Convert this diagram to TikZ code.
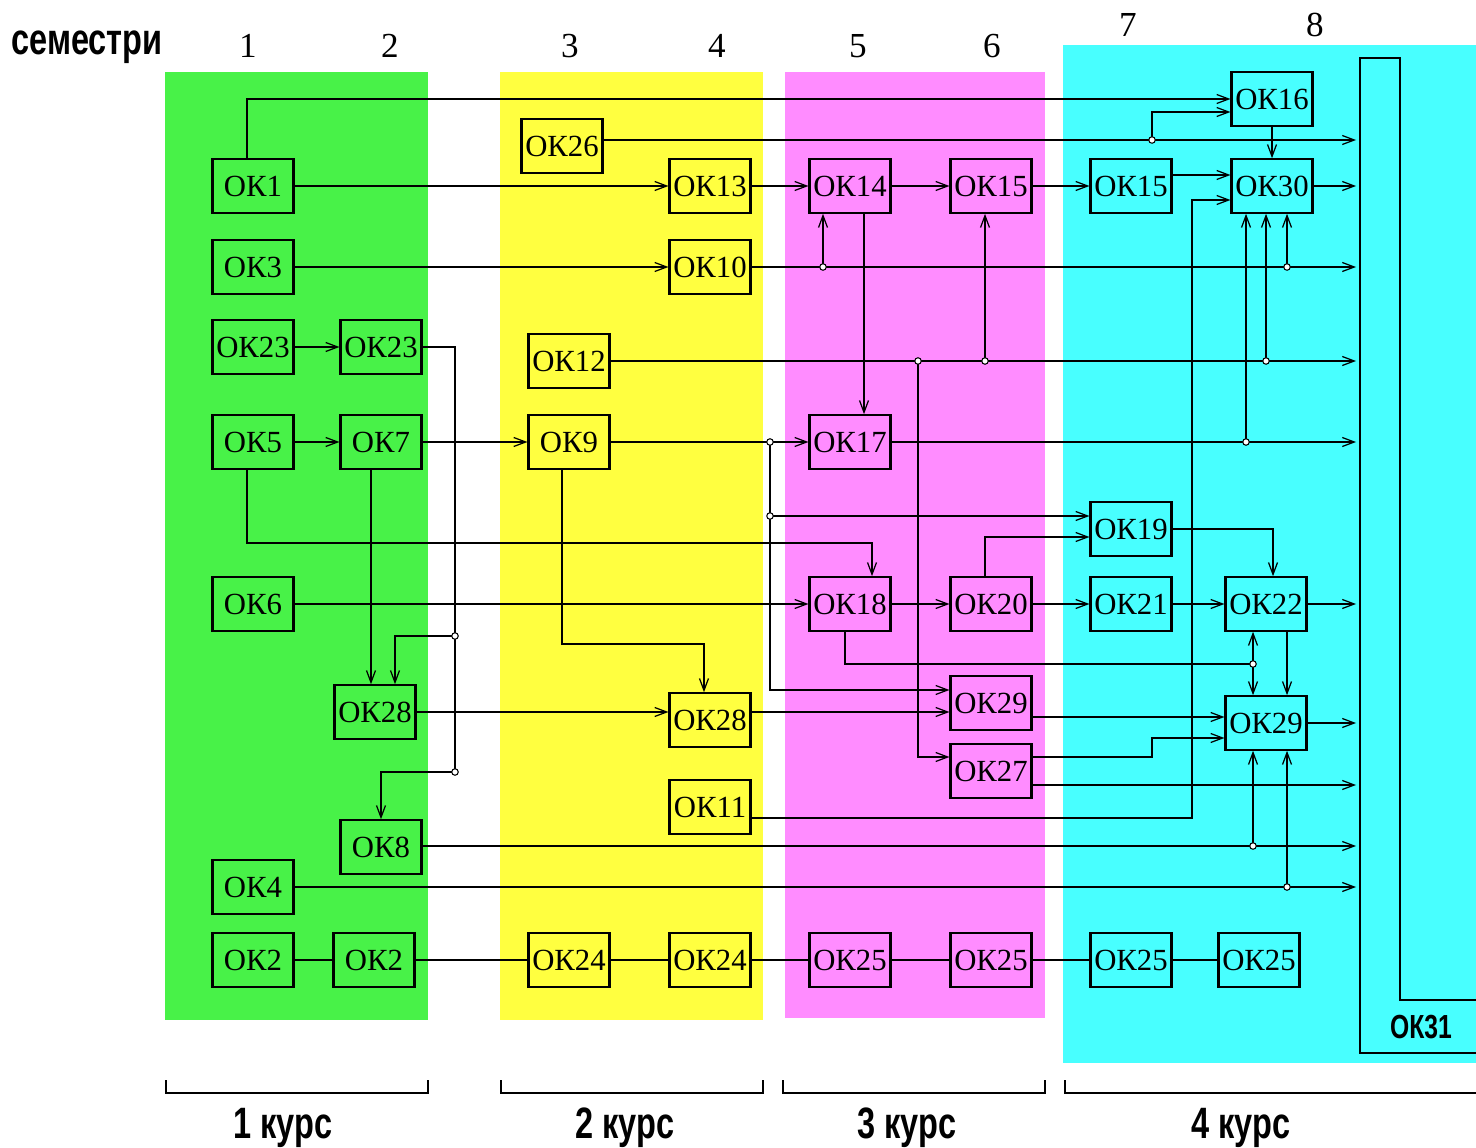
\documentclass[tikz,border=0pt]{standalone}
\usepackage{graphicx}
\usepackage{fontspec}
\setmainfont{Liberation Serif}
\newfontfamily\labelfont{Liberation Sans}
\usetikzlibrary{arrows.meta}

\definecolor{kursone}{RGB}{72,242,72}
\definecolor{kurstwo}{RGB}{255,255,64}
\definecolor{kursthree}{RGB}{255,140,255}
\definecolor{kursfour}{RGB}{72,255,255}

\newcommand{\narrowtext}[1]{\scalebox{0.74}[1]{#1}}

\tikzset{
  box/.style={draw, line width=1.2pt, minimum width=1.62cm, minimum height=1.07cm,
    inner sep=0pt, font=\fontsize{17.5}{17.5}\selectfont},
  dot/.style={circle, draw, fill=white, line width=0.6pt, inner sep=0pt, minimum size=0.13cm},
  semnum/.style={font=\fontsize{20}{20}\selectfont},
  kurslabel/.style={font=\labelfont\bfseries\fontsize{25}{25}\selectfont},
  bracket/.style={line width=1.4pt},
}

\begin{document}
\begin{tikzpicture}[x=0.02cm, y=-0.02cm, >={Straight Barb[length=0.24cm,width=0.18cm]}, line width=0.7pt]
  \useasboundingbox (0,0) rectangle (1476,1148);

  % course areas
  \fill[kursone] (165,72) rectangle (428,1020);
  \fill[kurstwo] (500,72) rectangle (763,1020);
  \fill[kursthree] (785,72) rectangle (1045,1018);
  \fill[kursfour] (1063,45) rectangle (1476,1063);

  % headings
  \node[kurslabel] (semestry) at (87,47) {\narrowtext{семестри}};
  \foreach \n/\x/\y in {1/248/46, 2/390/46, 3/570/46, 4/717/46, 5/858/46, 6/992/46, 7/1128/25, 8/1315/25}
    \node[semnum] (sem\n) at (\x,\y) {\n};

  % OK31
  \draw[line width=1.6pt] (1476,1000) -- (1400,1000) -- (1400,58) -- (1360,58) -- (1360,1053) -- (1476,1053);
  \node[kurslabel, font=\labelfont\bfseries\fontsize{19}{19}\selectfont] (ok31) at (1421,1027) {\narrowtext{ОК31}};
  \coordinate (bus) at (1356,0);

  % 1 course
  \node[box] (ok1) at (253,186) {ОК1};
  \node[box] (ok3) at (253,267) {ОК3};
  \node[box] (ok23a) at (253,347) {ОК23};
  \node[box] (ok23b) at (381,347) {ОК23};
  \node[box] (ok5) at (253,442) {ОК5};
  \node[box] (ok7) at (381,442) {ОК7};
  \node[box] (ok6) at (253,604) {ОК6};
  \node[box] (ok28a) at (375,712) {ОК28};
  \node[box] (ok8) at (381,847) {ОК8};
  \node[box] (ok4) at (253,887) {ОК4};
  \node[box] (ok2a) at (253,960) {ОК2};
  \node[box] (ok2b) at (374,960) {ОК2};

  % 2 course
  \node[box] (ok26) at (562,146) {ОК26};
  \node[box] (ok13) at (710,186) {ОК13};
  \node[box] (ok10) at (710,267) {ОК10};
  \node[box] (ok12) at (569,361) {ОК12};
  \node[box] (ok9) at (569,442) {ОК9};
  \node[box] (ok28b) at (710,720) {ОК28};
  \node[box] (ok11) at (710,807) {ОК11};
  \node[box] (ok24a) at (569,960) {ОК24};
  \node[box] (ok24b) at (710,960) {ОК24};

  % 3 course
  \node[box] (ok14) at (850,186) {ОК14};
  \node[box] (ok15a) at (991,186) {ОК15};
  \node[box] (ok17) at (850,442) {ОК17};
  \node[box] (ok18) at (850,604) {ОК18};
  \node[box] (ok20) at (991,604) {ОК20};
  \node[box] (ok29a) at (991,703) {ОК29};
  \node[box] (ok27) at (991,771) {ОК27};
  \node[box] (ok25a) at (850,960) {ОК25};
  \node[box] (ok25b) at (991,960) {ОК25};

  % 4 course
  \node[box] (ok16) at (1272,99) {ОК16};
  \node[box] (ok15b) at (1131,186) {ОК15};
  \node[box] (ok30) at (1272,186) {ОК30};
  \node[box] (ok19) at (1131,529) {ОК19};
  \node[box] (ok21) at (1131,604) {ОК21};
  \node[box] (ok22) at (1266,604) {ОК22};
  \node[box] (ok29b) at (1266,723) {ОК29};
  \node[box] (ok25c) at (1131,960) {ОК25};
  \node[box] (ok25d) at (1259,960) {ОК25};

  % junctions
  \coordinate (j26) at (1152,140);
  \coordinate (j10a) at (823,267);
  \coordinate (j10b) at (1287,267);
  \coordinate (j23a) at (455,636);
  \coordinate (j23b) at (455,772);
  \coordinate (j12a) at (918,361);
  \coordinate (j12b) at (985,361);
  \coordinate (j12c) at (1266,361);
  \coordinate (j9a) at (770,442);
  \coordinate (j9b) at (770,516);
  \coordinate (j17) at (1246,442);
  \coordinate (j18) at (1253,664);
  \coordinate (j8) at (1253,846);
  \coordinate (j4) at (1287,887);

  % connectors
  \draw[->] (247,0 |- ok1.north) |- (ok16.west);
  \draw[->] (ok26.east |- 0,140) -- (bus |- j26);
  \draw[->] (j26) |- (ok16.west |- 0,112);
  \draw[->] (ok1) -- (ok13);
  \draw[->] (ok13) -- (ok14);
  \draw[->] (ok14) -- (ok15a);
  \draw[->] (ok15a) -- (ok15b);
  \draw[->] (ok15b.east |- 0,175) -- (ok30.west |- 0,175);
  \draw[->] (ok16) -- (ok30);
  \draw[->] (ok30) -- (bus |- ok30);

  \draw[->] (ok3) -- (ok10);
  \draw[->] (ok10) -- (bus |- ok10);
  \draw[->] (j10a) -- (j10a |- ok14.south);
  \draw[->] (j10b) -- (j10b |- ok30.south);

  \draw[->] (ok23a) -- (ok23b);
  \draw (ok23b.east) -| (j23b);
  \draw[->] (j23a) -| (395,0 |- ok28a.north);
  \draw[->] (j23b) -| (ok8.north);

  \draw[->] (ok12) -- (bus |- ok12);
  \draw[->] (j12a) |- (ok27.west |- 0,757);
  \draw[->] (j12b) -- (j12b |- ok15a.south);
  \draw[->] (j12c) -- (j12c |- ok30.south);

  \draw[->] (ok5) -- (ok7);
  \draw[->] (ok7) -- (ok9);
  \draw[->] (371,0 |- ok7.south) -- (371,0 |- ok28a.north);
  \draw[->] (247,0 |- ok5.south) |- (872,543) -- (872,0 |- ok18.north);

  \draw[->] (ok9) -- (ok17);
  \draw[->] (j9a) |- (ok29a.west |- 0,690);
  \draw[->] (j9b) -- (ok19.west |- j9b);
  \draw[->] (562,0 |- ok9.south) |- (704,644) -- (704,0 |- ok28b.north);
  \draw[->] (864,0 |- ok14.south) -- (864,0 |- ok17.north);
  \draw[->] (ok17) -- (bus |- ok17);
  \draw[->] (j17) -- (j17 |- ok30.south);

  \draw[->] (985,0 |- ok20.north) |- (ok19.west |- 0,537);
  \draw[->] (ok19.east) -| (1273,0 |- ok22.north);
  \draw[->] (ok6) -- (ok18);
  \draw[->] (ok18) -- (ok20);
  \draw[->] (ok20) -- (ok21);
  \draw[->] (ok21) -- (ok22);
  \draw[->] (ok22) -- (bus |- ok22);
  \draw (845,0 |- ok18.south) |- (j18);
  \draw[->] (j18) -- (j18 |- ok22.south);
  \draw[->] (j18) -- (j18 |- ok29b.north);
  \draw[->] (1287,0 |- ok22.south) -- (1287,0 |- ok29b.north);

  \draw[->] (ok28a.east) -- (ok28b.west |- ok28a.east);
  \draw[->] (ok28b.east |- 0,712) -- (ok29a.west |- 0,712);
  \draw[->] (ok29a.east |- 0,717) -- (ok29b.west |- 0,717);
  \draw[->] (ok27.east |- 0,757) -| (1152,738) -- (ok29b.west |- 0,738);
  \draw[->] (ok29b) -- (bus |- ok29b);
  \draw[->] (ok27.east |- 0,785) -- (bus |- 0,785);
  \draw[->] (ok11.east |- 0,818) -| (1192,200) -- (ok30.west |- 0,200);
  \draw[->] (ok8.east |- j8) -- (bus |- j8);
  \draw[->] (j8) -- (j8 |- ok29b.south);
  \draw[->] (ok4) -- (bus |- ok4);
  \draw[->] (j4) -- (j4 |- ok29b.south);

  \draw (ok2a) -- (ok2b) -- (ok24a) -- (ok24b) -- (ok25a) -- (ok25b) -- (ok25c) -- (ok25d);

  % junction dots
  \foreach \j in {j26, j10a, j10b, j23a, j23b, j12a, j12b, j12c, j9a, j9b, j17, j18, j8, j4}
    \node[dot] (dot-\j) at (\j) {};

  % courses
  \foreach \n/\a/\b in {1/166/428, 2/501/763, 3/783/1045}
    \draw[bracket] (\a,1080) -- (\a,1093) -- (\b,1093) -- (\b,1080);
  \draw[bracket] (1065,1080) -- (1065,1093) -- (1476,1093);
  \foreach \n/\x in {1/283, 2/625, 3/907, 4/1241}
    \node[kurslabel] (kurs\n) at (\x,1128) {\narrowtext{\n\ курс}};
\end{tikzpicture}
\end{document}
